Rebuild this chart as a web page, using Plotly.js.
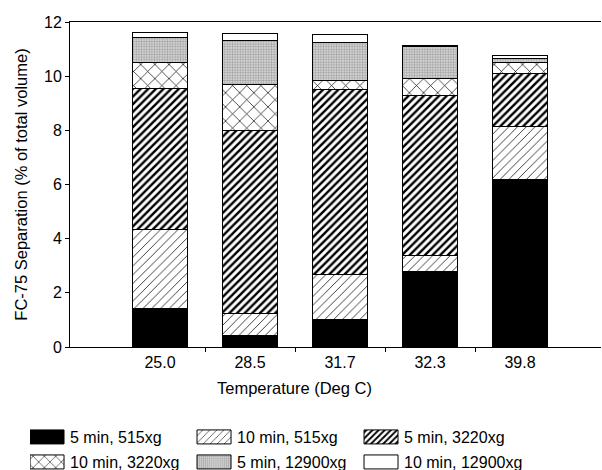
<!DOCTYPE html>
<html>
<head>
<meta charset="utf-8">
<script src="https://cdn.plot.ly/plotly-3.0.1.min.js"></script>
<style>html,body{margin:0;padding:0;background:#fff;}#chart{width:602px;height:470px;}</style>
</head>
<body>
<div id="chart"></div>
<script>
const categories = ["25.0", "28.5", "31.7", "32.3", "39.8"];
const seriesNames = ["5 min, 515xg", "10 min, 515xg", "5 min, 3220xg", "10 min, 3220xg", "5 min, 12900xg", "10 min, 12900xg"];
const s5min515 = [1.43, 0.42, 1.03, 2.80, 6.19];
const s10min515 = [2.91, 0.82, 1.65, 0.59, 1.97];
const s5min3220 = [5.21, 6.74, 6.82, 5.88, 1.94];
const s10min3220 = [0.95, 1.71, 0.35, 0.66, 0.42];
const s5min12900 = [0.91, 1.61, 1.41, 1.15, 0.15];
const s10min12900 = [0.20, 0.27, 0.27, 0.05, 0.08];
const yTicks = [0, 2, 4, 6, 8, 10, 12];
const xTitle = "Temperature (Deg C)";
const yTitle = "FC-75 Separation (% of total volume)";

const values = [s5min515, s10min515, s5min3220, s10min3220, s5min12900, s10min12900];
const patterns = [
  null,
  {shape: "/", fgcolor: "#000000", bgcolor: "#ffffff", size: 6.2, solidity: 0.12},
  {shape: "/", fgcolor: "#000000", bgcolor: "#ffffff", size: 5.4, solidity: 0.45},
  {shape: "x", fgcolor: "#000000", bgcolor: "#ffffff", size: 10, solidity: 0.13},
  {shape: ".", fgcolor: "#a0a0a0", bgcolor: "#e2e2e2", size: 2.6, solidity: 0.5},
  null
];
const fills = ["#000000", "#ffffff", "#ffffff", "#ffffff", "#e2e2e2", "#ffffff"];
const xIdx = categories.map((c, i) => i);

const traces = values.map((v, k) => {
  const m = {color: fills[k], line: {color: "#000000", width: 1}};
  if (patterns[k]) m.pattern = patterns[k];
  return {
    type: "bar",
    name: seriesNames[k],
    x: xIdx,
    y: v,
    width: 0.61,
    marker: m,
    legend: k < 3 ? "legend" : "legend2",
    hoverinfo: "y+name"
  };
});

// invisible trace carrying the between-category tick marks
traces.push({type: "scatter", x: [0], y: [0], xaxis: "x2", mode: "markers",
  marker: {opacity: 0}, showlegend: false, hoverinfo: "skip"});

const fam = "Liberation Sans, Arial, sans-serif";
const font = {family: fam, size: 16, color: "#000"};

const legendBase = {
  orientation: "h", x: -0.0753, xanchor: "left", yanchor: "middle",
  font: {family: fam, size: 16, color: "#000"},
  entrywidth: 122, entrywidthmode: "pixels", traceorder: "normal",
  bgcolor: "rgba(0,0,0,0)", borderwidth: 0
};

const layout = {
  width: 602, height: 470,
  barmode: "stack",
  paper_bgcolor: "#fff", plot_bgcolor: "#fff",
  margin: {l: 70, r: 1, t: 22, b: 123, autoexpand: false},
  font: font,
  showlegend: true,
  legend: Object.assign({}, legendBase, {y: -0.277}),
  legend2: Object.assign({}, legendBase, {y: -0.354}),
  xaxis: {
    range: [-1, 4.9], tickvals: xIdx, ticktext: categories,
    ticks: "", showgrid: false, zeroline: false,
    showline: true, linecolor: "#000", linewidth: 1, mirror: true,
    tickfont: font, ticklabelstandoff: 1, fixedrange: true
  },
  xaxis2: {
    overlaying: "x", range: [-1, 4.9], tickvals: [0.5, 1.5, 2.5, 3.5],
    ticktext: ["", "", "", ""], ticks: "outside", ticklen: 4, tickcolor: "#000",
    showgrid: false, zeroline: false, showline: false, side: "bottom", anchor: "y"
  },
  yaxis: {
    range: [0, 12], tickvals: yTicks, ticktext: yTicks.map(String),
    ticks: "outside", ticklen: 4, tickcolor: "#000",
    showgrid: false, zeroline: false,
    showline: true, linecolor: "#000", linewidth: 1,
    title: {text: yTitle, font: {family: fam, size: 16.5, color: "#000"}, standoff: 12},
    tickfont: font, fixedrange: true
  },
  annotations: [{
    text: xTitle, xref: "paper", yref: "paper", x: 0.4237, y: -0.126,
    xanchor: "center", yanchor: "middle", showarrow: false,
    font: {family: fam, size: 16.5, color: "#000"}
  }]
};

Plotly.newPlot("chart", traces, layout, {displayModeBar: false, staticPlot: true}).then(() => {
  // widen the legend swatches to the reference's wide rectangular keys
  document.querySelectorAll("g.legendpoints path").forEach(p => {
    p.setAttribute("d", "M14,7H-20V-7H14Z");
  });
});
</script>
</body>
</html>
